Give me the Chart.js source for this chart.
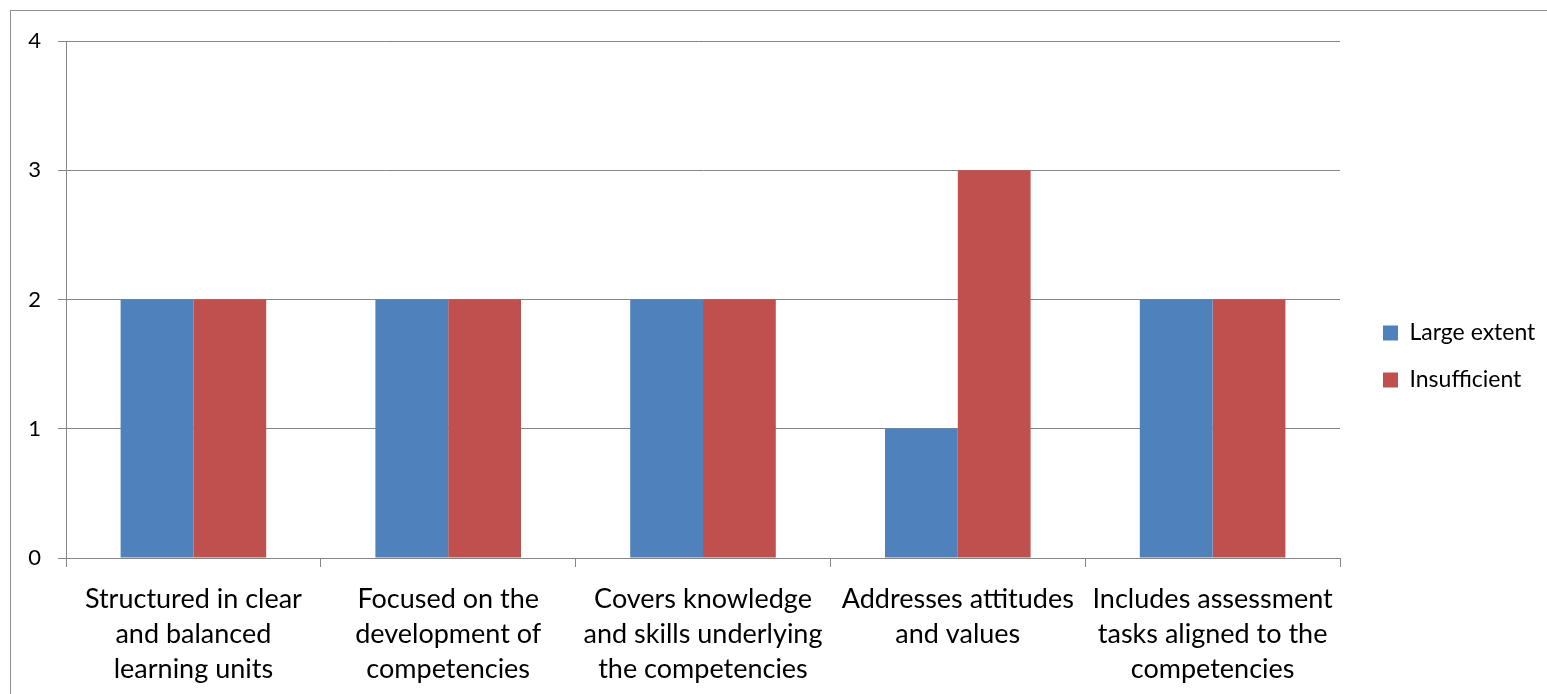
<!DOCTYPE html>
<html>
<head>
<meta charset="utf-8">
<style>
  html, body { margin: 0; padding: 0; background: #fff; overflow: hidden; }
  #wrap { position: relative; width: 1547px; height: 694px; }
  /* рамка области диаграммы */
  #frame { position: absolute; left: 10px; top: 10px; width: 1600px; height: 800px; border: 1px solid #8f8f8f; }
  #chart { position: absolute; left: 0; top: 0; }
</style>
<script src="https://cdn.jsdelivr.net/npm/chart.js@4.4.1/dist/chart.umd.min.js"></script>
</head>
<body>
<div id="wrap">
  <div id="frame"></div>
  <canvas id="chart" width="1547" height="694"></canvas>
</div>
<script>
  'use strict';

  // Категории (подписи оси X, по строкам)
  const categories = [
    ['Structured in clear', 'and balanced', 'learning units'],
    ['Focused on the', 'development of', 'competencies'],
    ['Covers knowledge', 'and skills underlying', 'the competencies'],
    ['Addresses attitudes', 'and values'],
    ['Includes assessment', 'tasks aligned to the', 'competencies'],
  ];

  // Значения рядов
  const largeExtent = [2, 2, 2, 1, 2];
  const insufficient = [2, 2, 2, 3, 2];

  // Деления оси Y
  const yTicks = [0, 1, 2, 3, 4];

  const colors = {
    blue: '#4F81BD',
    red: '#C0504D',
    grid: '#868686',
    text: '#000000',
  };

  const FONT = 'Lato';
  const X_FONT = 27;
  const Y_FONT = 22;
  const LEGEND_FONT = 23;

  // Легенда справа: фиксированная ширина колонки и положение пунктов
  const legendPlace = {
    id: 'legendPlace',
    afterInit(chart) {
      const lg = chart.legend;
      const fit = lg.fit.bind(lg);
      lg.fit = function () {
        fit();
        this.width = 207;
      };
    },
    afterLayout(chart) {
      const lg = chart.legend;
      const pad = lg.options.labels.padding;
      lg.left = chart.chartArea.right + 43 - pad;
      lg.right = chart.width;
      // центр первого пункта на y = 333
      lg.top = 333 - LEGEND_FONT / 2 - pad;
      lg.bottom = lg.top + 200;
    }
  };

  new Chart(document.getElementById('chart').getContext('2d'), {
    type: 'bar',
    data: {
      labels: categories,
      datasets: [
        {
          label: 'Large extent',
          data: largeExtent,
          backgroundColor: colors.blue,
          borderWidth: 0,
          categoryPercentage: 2 / 3.5,
          barPercentage: 1.0,
        },
        {
          label: 'Insufficient',
          data: insufficient,
          backgroundColor: colors.red,
          borderWidth: 0,
          categoryPercentage: 2 / 3.5,
          barPercentage: 1.0,
        }
      ]
    },
    options: {
      responsive: false,
      animation: false,
      layout: { padding: { left: 0, top: 41, right: 0, bottom: 0 } },
      plugins: {
        legend: {
          position: 'right',
          align: 'start',
          labels: {
            boxWidth: 15,
            boxHeight: 15,
            padding: 47 - LEGEND_FONT,
            color: colors.text,
            font: { family: FONT, size: LEGEND_FONT },
          }
        },
        tooltip: { enabled: false },
      },
      scales: {
        x: {
          offset: true,
          grid: {
            display: true,
            offset: true,
            drawOnChartArea: false,
            drawTicks: true,
            tickLength: 9,
            color: colors.grid,
          },
          border: { color: colors.grid },
          ticks: {
            autoSkip: false,
            maxRotation: 0,
            minRotation: 0,
            padding: 15,
            color: colors.text,
            font: { family: FONT, size: X_FONT, lineHeight: 35 / X_FONT },
          },
          afterFit(scale) { scale.height = 136; }
        },
        y: {
          min: yTicks[0],
          max: yTicks[yTicks.length - 1],
          afterBuildTicks(scale) { scale.ticks = yTicks.map(v => ({ value: v })); },
          grid: {
            color: colors.grid,
            tickLength: 8,
          },
          border: { color: colors.grid },
          ticks: {
            padding: 17,
            color: colors.text,
            font: { family: FONT, size: Y_FONT },
          },
          afterFit(scale) { scale.width = 66; }
        }
      }
    },
    plugins: [legendPlace]
  });
</script>
</body>
</html>
